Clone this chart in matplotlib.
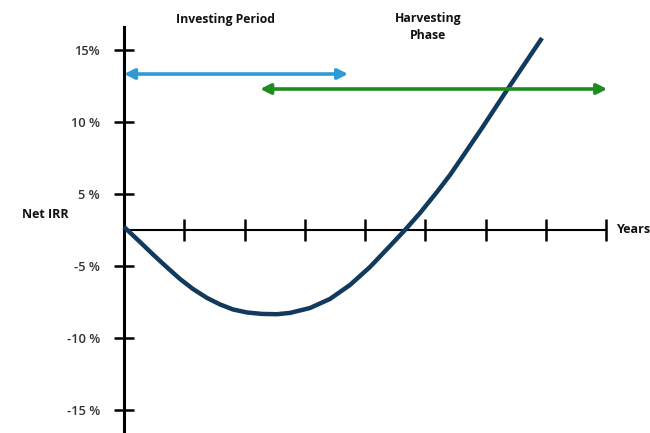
"""
J-curve of private equity Net IRR over the fund life
"""

import numpy as np
import matplotlib.pyplot as plt

# Curve: years vs Net IRR (%)
years = [0, 0.266, 0.481, 0.714, 0.929, 1.145, 1.378, 1.593, 1.809, 2.041, 2.290, 2.539,
         2.755, 3.087, 3.419, 3.751, 4.083, 4.415, 4.664, 4.913, 5.195, 5.411, 5.627,
         5.942, 6.357, 6.938]
net_irr = [0.42, -1.67, -3.40, -5.10, -5.90, -6.60, -7.22, -7.67, -8.02, -8.23, -8.33, -8.35,
           -8.26, -7.92, -7.29, -6.32, -5.07, -2.22, 0.0, 2.36, 5.14, 6.32, 7.64,
           9.58, 12.22, 15.83]

# Axis ticks
year_ticks = [1, 2, 3, 4, 5, 6, 7, 8]
irr_ticks = [-15, -10, -5, 5, 10, 15]
irr_labels = ["-15 %", "-10 %", "-5 %", "5 %", "10 %", "15%"]

# Phase arrows: name, start year, end year, level (%)
phase_names = ["Investing Period", "Harvesting\nPhase"]
phase_start = [0, 2.26]
phase_end = [3.72, 8.02]
phase_level = [13.33, 12.29]
phase_colors = ["#2e9bd4", "#1f8c1f"]
phase_label_x = [1.69, 5.05]
phase_label_y = [17.15, 16.6]


# the original axis is not to scale: 0..5 % takes half the room of 5..10 %
def squash(v):
    v = np.asarray(v, dtype=float)
    return np.where(np.abs(v) <= 5, v / 5, np.sign(v) * (1 + (np.abs(v) - 5) * 0.4))


def unsquash(u):
    u = np.asarray(u, dtype=float)
    return np.where(np.abs(u) <= 1, u * 5, np.sign(u) * (5 + (np.abs(u) - 1) * 2.5))


fig = plt.figure(figsize=(6.5, 4.33), dpi=100)
ax = fig.add_axes([0, 0, 1, 1])
ax.set_yscale('function', functions=(squash, unsquash))
ax.set_xlim(-2.058, 8.73)
ax.set_ylim(-16.6, 18.47)

# axes drawn through the origin
ax.spines['left'].set_position(('data', 0))
ax.spines['bottom'].set_position(('data', 0))
ax.spines['left'].set_bounds(-16.6, 16.6)
ax.spines['bottom'].set_bounds(0, 8)
ax.spines['left'].set_linewidth(2.2)
ax.spines['bottom'].set_linewidth(1.5)
ax.spines['top'].set_visible(False)
ax.spines['right'].set_visible(False)

ax.set_xticks(year_ticks)
ax.set_xticklabels([])
ax.tick_params(axis='x', direction='inout', length=16.5, width=1.8)
ax.yaxis.set_minor_locator(plt.NullLocator())
ax.xaxis.set_minor_locator(plt.NullLocator())
ax.set_yticks(irr_ticks)
ax.set_yticklabels(irr_labels, fontfamily='Open Sans', fontweight='semibold',
                   fontsize=9.3, color='#333333')
ax.tick_params(axis='y', direction='inout', length=14.4, width=1.8, pad=10)

# J-curve
ax.plot(years, net_irr, color='#113a5c', linewidth=3.2, solid_capstyle='butt',
        solid_joinstyle='round', zorder=3)

# phase arrows and their titles
for name, x0, x1, lvl, col, lx, ly in zip(phase_names, phase_start, phase_end, phase_level,
                                          phase_colors, phase_label_x, phase_label_y):
    ax.annotate('', xy=(x1, lvl), xytext=(x0, lvl),
                arrowprops=dict(arrowstyle='<|-|>,head_length=0.6,head_width=0.3',
                                color=col, lw=2.6, shrinkA=0, shrinkB=0))
    ax.text(lx, ly, name, ha='center', va='center', fontsize=8.8,
            fontfamily='Open Sans', fontweight='bold', color='#111111', linespacing=1.4)

ax.text(-1.69, 2.08, "Net IRR", ha='left', va='center', fontsize=9,
        fontfamily='Open Sans', fontweight='bold', color='#111111')
ax.text(8.18, 0, "Years", ha='left', va='center', fontsize=9,
        fontfamily='Open Sans', fontweight='bold', color='#111111')

plt.savefig('out.png', dpi=100, facecolor='white')
plt.close()
